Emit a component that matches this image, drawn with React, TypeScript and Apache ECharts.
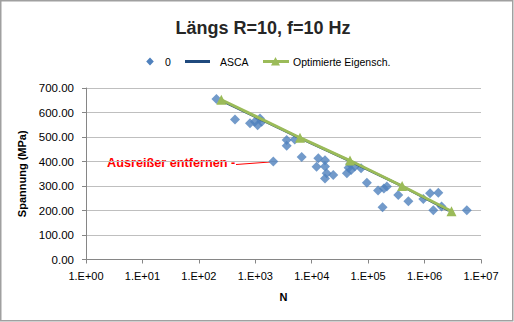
import React, { useEffect, useRef } from "react";
import * as echarts from "echarts";

const titleText = "Längs R=10, f=10 Hz";
const xAxisName = "N";
const yAxisName = "Spannung (MPa)";
const seriesNames = ["0", "ASCA", "Optimierte Eigensch."];
const annotationText = "Ausreißer entfernen -";

// Messpunkte [N, Spannung]
const measuredN = [
  205, 437, 806, 983, 1100, 1212, 1300, 2085, 3600, 3600, 5000, 6640,
  13100, 17200, 12200, 17200, 18400, 24100, 17200, 42000, 45000, 48000,
  58000, 75000, 50000, 95000, 150000, 190000, 215000, 180000, 342000,
  516000, 950000, 1250000, 1750000, 1430000, 2000000, 5600000,
];
const measuredS = [
  655, 571, 556, 562, 548, 576, 562, 400, 488, 464, 490, 418,
  413, 405, 379, 380, 352, 345, 331, 352, 375, 390,
  380, 372, 365, 313, 282, 290, 298, 213, 263,
  238, 247, 270, 272, 201, 216, 201,
];

const ascaN = [275, 6200, 47700, 400000, 2700000];
const ascaS = [644, 495, 402, 299, 199];

const optN = [250, 6200, 47700, 400000, 3000000];
const optS = [652, 497, 404, 300, 197];

const yTicks = [0, 100, 200, 300, 400, 500, 600, 700];

const FONT = '"Liberation Sans", Arial, sans-serif';

export default function App() {
  const ref = useRef<HTMLDivElement>(null);
  useEffect(() => {
    if (!ref.current) return;
    const chart = echarts.init(ref.current, undefined, { renderer: "svg" });
    const scatterData = measuredN.map((n, i) => [n, measuredS[i]]);
    const ascaData = ascaN.map((n, i) => [n, ascaS[i]]);
    const optData = optN.map((n, i) => [n, optS[i]]);
    chart.setOption({
      animation: false,
      backgroundColor: "#ffffff",
      textStyle: { fontFamily: FONT },
      title: {
        text: titleText,
        left: 258,
        top: 14,
        textAlign: "center",
        textStyle: { fontSize: 18, fontWeight: "bold", color: "#262626", fontFamily: FONT },
      },
      grid: { left: 86, right: 33, top: 88, bottom: 62.5, containLabel: false },
      xAxis: {
        type: "log",
        logBase: 10,
        min: 1,
        max: 10000000,
        interval: 1,
        splitNumber: 7,
        name: xAxisName,
        nameLocation: "middle",
        nameGap: 32,
        nameTextStyle: { fontSize: 11, fontWeight: "bold", color: "#000", fontFamily: FONT },
        axisLine: { show: true, lineStyle: { color: "#868686", width: 1 } },
        axisTick: { show: true, inside: false, length: 4, lineStyle: { color: "#868686" } },
        minorTick: { show: false },
        splitLine: { show: false },
        axisLabel: {
          fontSize: 11,
          color: "#000",
          margin: 11,
          fontFamily: FONT,
          formatter: (v: number) => {
            const e = Math.round(Math.log10(v));
            return "1.E+" + String(e).padStart(2, "0");
          },
        },
      },
      yAxis: {
        type: "value",
        min: yTicks[0],
        max: yTicks[yTicks.length - 1],
        interval: 100,
        name: yAxisName,
        nameLocation: "middle",
        nameGap: 53,
        nameRotate: 90,
        nameTextStyle: { fontSize: 11, fontWeight: "bold", color: "#000", fontFamily: FONT },
        axisLine: { show: true, lineStyle: { color: "#868686", width: 1 } },
        axisTick: { show: true, inside: false, length: 4, lineStyle: { color: "#868686" } },
        splitLine: { show: true, lineStyle: { color: "#bfbfbf", width: 1 } },
        axisLabel: {
          fontSize: 11.5,
          color: "#000",
          margin: 12,
          fontFamily: FONT,
          formatter: (v: number) => v.toFixed(2),
        },
      },
      series: [
        {
          name: seriesNames[0],
          type: "scatter",
          data: scatterData,
          symbol: "diamond",
          symbolSize: 10,
          itemStyle: { color: "#4f81bd" },
          z: 2,
        },
        {
          name: seriesNames[1],
          type: "line",
          data: ascaData,
          showSymbol: false,
          symbol: "none",
          lineStyle: { color: "#1f497d", width: 2.5 },
          itemStyle: { color: "#1f497d" },
          z: 3,
        },
        {
          name: seriesNames[2],
          type: "line",
          data: optData,
          symbol: "triangle",
          symbolSize: 10,
          lineStyle: { color: "#9bbb59", width: 3 },
          itemStyle: { color: "#9bbb59" },
          z: 4,
        },
      ],
      graphic: [
        {
          type: "rect",
          shape: { x: 0.75, y: 0.75, width: 512, height: 320 },
          style: { fill: "none", stroke: "#a0a0a0", lineWidth: 1.5 },
          silent: true,
        },
        {
          type: "polygon",
          shape: { points: [[150, 57.5], [153.8, 61.5], [150, 65.5], [146.2, 61.5]] },
          style: { fill: "#4f81bd" },
        },
        {
          type: "text",
          x: 165,
          y: 61.5,
          style: { text: seriesNames[0], fontSize: 10.5, fill: "#000", fontFamily: FONT, verticalAlign: "middle" },
        },
        {
          type: "line",
          shape: { x1: 185, y1: 61.5, x2: 210, y2: 61.5 },
          style: { stroke: "#1f497d", lineWidth: 3 },
        },
        {
          type: "text",
          x: 220,
          y: 61.5,
          style: { text: seriesNames[1], fontSize: 10.5, fill: "#000", fontFamily: FONT, verticalAlign: "middle" },
        },
        {
          type: "line",
          shape: { x1: 263, y1: 61.5, x2: 289, y2: 61.5 },
          style: { stroke: "#9bbb59", lineWidth: 3 },
        },
        {
          type: "polygon",
          shape: { points: [[275.5, 57], [280, 65.5], [271, 65.5]] },
          style: { fill: "#9bbb59" },
        },
        {
          type: "text",
          x: 293,
          y: 61.5,
          style: { text: seriesNames[2], fontSize: 10.5, fill: "#000", fontFamily: FONT, verticalAlign: "middle" },
        },
        {
          type: "text",
          x: 107,
          y: 163,
          style: {
            text: annotationText,
            fontSize: 12.7,
            fontWeight: "bold",
            fill: "#ff0000",
            fontFamily: FONT,
            verticalAlign: "middle",
          },
        },
        {
          type: "line",
          shape: { x1: 236, y1: 164.5, x2: 270, y2: 162 },
          style: { stroke: "#ff0000", lineWidth: 1 },
        },
      ],
    });
    return () => chart.dispose();
  }, []);
  return (
    <div
      ref={ref}
      style={{ position: "absolute", left: 0, top: 0, width: 514, height: 322, background: "#fff" }}
    />
  );
}
